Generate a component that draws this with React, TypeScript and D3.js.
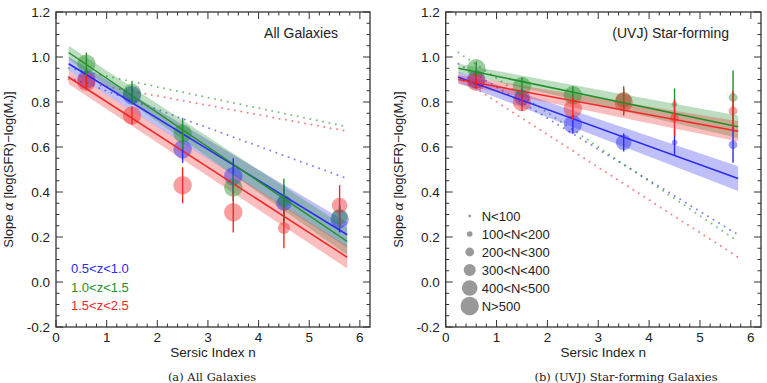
import * as React from 'react';
import {useEffect, useRef} from 'react';
import * as d3 from 'd3';

const W = 767;
const H = 383;

// Sersic index bins where the slopes were measured
const nAll = [0.6, 1.5, 2.5, 3.5, 4.5, 5.6];
const nSF = [0.6, 1.5, 2.5, 3.5, 4.5, 5.65];

// All galaxies: slope, error, size bin (0..5 -> N<100 .. N>500)
const allLowZ = [[0.90, 0.04, 5], [0.83, 0.04, 5], [0.59, 0.06, 5], [0.47, 0.08, 5], [0.35, 0.08, 4], [0.28, 0.06, 5]];
const allMidZ = [[0.97, 0.05, 5], [0.84, 0.05, 5], [0.66, 0.07, 5], [0.42, 0.06, 5], [0.36, 0.10, 3], [0.29, 0.05, 4]];
const allHighZ = [[0.89, 0.03, 5], [0.74, 0.04, 5], [0.43, 0.08, 5], [0.31, 0.09, 5], [0.24, 0.09, 3], [0.34, 0.09, 4]];

// UVJ star-forming galaxies
const sfLowZ = [[0.90, 0.03, 5], [0.82, 0.04, 4], [0.70, 0.04, 5], [0.62, 0.04, 4], [0.62, 0.06, 1], [0.61, 0.08, 2]];
const sfMidZ = [[0.95, 0.03, 5], [0.87, 0.04, 5], [0.83, 0.04, 5], [0.81, 0.06, 4], [0.79, 0.07, 1], [0.82, 0.12, 2]];
const sfHighZ = [[0.89, 0.03, 5], [0.80, 0.04, 5], [0.77, 0.05, 5], [0.80, 0.06, 5], [0.73, 0.08, 2], [0.76, 0.09, 2]];

// linear fits: value at n=0.25, value at n=5.75, band half-width at both ends
const fitRange = [0.25, 5.75];
const allFits = [[0.97, 0.21, 0.03, 0.055], [1.02, 0.18, 0.03, 0.06], [0.91, 0.11, 0.03, 0.05]];
const sfFits = [[0.91, 0.46, 0.025, 0.055], [0.95, 0.69, 0.02, 0.05], [0.90, 0.67, 0.02, 0.045]];

const zLabels = ['0.5<z<1.0', '1.0<z<1.5', '1.5<z<2.5'];
const zColors = ['#2a2af0', '#22902a', '#f02828'];
const sizeLabels = ['N<100', '100<N<200', '200<N<300', '300<N<400', '400<N<500', 'N>500'];
const sizeRadius = [1.4, 2.8, 4.4, 6, 7.8, 9.2];

const font = '"Liberation Sans", Arial, Helvetica, sans-serif';

interface PanelSpec {
  left: number;
  right: number;
  title: string;
  caption: string;
  captionX: number;
  xs: number[];
  points: number[][][];
  fits: number[][];
  dotted: number[][];
  legend: 'z' | 'size';
}

const panels: PanelSpec[] = [
  {left: 56, right: 370, title: 'All Galaxies', caption: '(a) All Galaxies', captionX: 212,
    xs: nAll, points: [allLowZ, allMidZ, allHighZ], fits: allFits, dotted: sfFits, legend: 'z'},
  {left: 445.7, right: 761, title: '(UVJ) Star-forming', caption: '(b) (UVJ) Star-forming Galaxies', captionX: 626,
    xs: nSF, points: [sfLowZ, sfMidZ, sfHighZ], fits: sfFits, dotted: allFits, legend: 'size'},
];

const top = 12;
const bottom = 327;

export default function App() {
  const ref = useRef<SVGSVGElement>(null);

  useEffect(() => {
    const svg = d3.select(ref.current);
    svg.selectAll('*').remove();

    panels.forEach(p => {
      const x = d3.scaleLinear().domain([0, 6]).range([p.left, p.left + (p.right - p.left) * 6 / 6.2]);
      const y = d3.scaleLinear().domain([-0.2, 1.2]).range([bottom, top]);
      const g = svg.append('g');

      // dotted fits from the other sample
      p.dotted.forEach((f, i) => {
        g.append('line')
          .attr('x1', x(fitRange[0])).attr('y1', y(f[0]))
          .attr('x2', x(fitRange[1])).attr('y2', y(f[1]))
          .attr('stroke', zColors[i]).attr('stroke-opacity', 0.6)
          .attr('stroke-width', 2).attr('stroke-linecap', 'round')
          .attr('stroke-dasharray', '0 6.5');
      });

      // confidence bands
      p.fits.forEach((f, i) => {
        const area = d3.area<number>()
          .x(t => x(fitRange[0] + t * (fitRange[1] - fitRange[0])))
          .y0(t => y(f[0] + t * (f[1] - f[0]) - (f[2] + t * (f[3] - f[2]))))
          .y1(t => y(f[0] + t * (f[1] - f[0]) + (f[2] + t * (f[3] - f[2]))));
        g.append('path').attr('d', area([0, 1])!)
          .attr('fill', zColors[i]).attr('fill-opacity', 0.3);
      });

      // measured slopes
      p.points.forEach((series, i) => {
        series.forEach((d, j) => {
          g.append('circle')
            .attr('cx', x(p.xs[j])).attr('cy', y(d[0]))
            .attr('r', sizeRadius[d[2]])
            .attr('fill', zColors[i]).attr('fill-opacity', 0.45);
        });
      });

      // fit lines
      p.fits.forEach((f, i) => {
        g.append('line')
          .attr('x1', x(fitRange[0])).attr('y1', y(f[0]))
          .attr('x2', x(fitRange[1])).attr('y2', y(f[1]))
          .attr('stroke', zColors[i]).attr('stroke-width', 1.5);
      });

      // error bars
      p.points.forEach((series, i) => {
        series.forEach((d, j) => {
          g.append('line')
            .attr('x1', x(p.xs[j])).attr('x2', x(p.xs[j]))
            .attr('y1', y(d[0] - d[1])).attr('y2', y(d[0] + d[1]))
            .attr('stroke', zColors[i]).attr('stroke-width', 1.4);
        });
      });

      // frame and ticks
      const axisColor = '#333';
      g.append('rect')
        .attr('x', p.left).attr('y', top)
        .attr('width', p.right - p.left).attr('height', bottom - top)
        .attr('fill', 'none').attr('stroke', axisColor).attr('stroke-width', 1.3);

      const xTicks = d3.range(0, 6.01, 0.2);
      xTicks.forEach(t => {
        const major = Math.abs(t - Math.round(t)) < 1e-6;
        const len = major ? 7 : 3.5;
        g.append('line').attr('x1', x(t)).attr('x2', x(t)).attr('y1', bottom).attr('y2', bottom - len)
          .attr('stroke', axisColor).attr('stroke-width', 1);
        g.append('line').attr('x1', x(t)).attr('x2', x(t)).attr('y1', top).attr('y2', top + len)
          .attr('stroke', axisColor).attr('stroke-width', 1);
      });
      const yTicks = d3.range(-0.2, 1.201, 0.05);
      yTicks.forEach((t, k) => {
        const major = k % 4 === 0;
        const len = major ? 7 : 3.5;
        g.append('line').attr('x1', p.left).attr('x2', p.left + len).attr('y1', y(t)).attr('y2', y(t))
          .attr('stroke', axisColor).attr('stroke-width', 1);
        g.append('line').attr('x1', p.right).attr('x2', p.right - len).attr('y1', y(t)).attr('y2', y(t))
          .attr('stroke', axisColor).attr('stroke-width', 1);
      });

      d3.range(0, 7).forEach(t => {
        g.append('text').attr('x', x(t)).attr('y', bottom + 15)
          .attr('text-anchor', 'middle').style('font', `13.5px ${font}`).attr('fill', '#222')
          .text(String(t));
      });
      d3.range(-0.2, 1.201, 0.2).forEach(t => {
        g.append('text').attr('x', p.left - 6).attr('y', y(t) + 5)
          .attr('text-anchor', 'end').style('font', `13.5px ${font}`).attr('fill', '#222')
          .text(d3.format('.1f')(t).replace('−', '-'));
      });

      g.append('text').attr('x', (p.left + p.right) / 2).attr('y', bottom + 30)
        .attr('text-anchor', 'middle').style('font', `13.5px ${font}`).attr('fill', '#222')
        .text('Sersic Index n');

      const yl = g.append('text')
        .attr('transform', `translate(${p.left - 43},${(top + bottom) / 2}) rotate(-90)`)
        .attr('text-anchor', 'middle').style('font', `13px ${font}`).attr('fill', '#222');
      yl.append('tspan').text('Slope ');
      yl.append('tspan').style('font-style', 'italic').style('font-family', '"DejaVu Serif", serif').text('α');
      yl.append('tspan').text(' [log(SFR)\u2212log(M');
      yl.append('tspan').attr('font-size', 9).attr('dy', 3).text('*');
      yl.append('tspan').attr('dy', -3).text(')]');

      g.append('text').attr('x', p.right - 32).attr('y', 38)
        .attr('text-anchor', 'end').style('font', `14px ${font}`).attr('fill', '#222')
        .text(p.title);

      g.append('text').attr('x', p.captionX).attr('y', 381)
        .attr('text-anchor', 'middle').style('font', `11.5px "DejaVu Serif", "Liberation Serif", serif`).attr('fill', '#222')
        .text(p.caption);

      if (p.legend === 'z') {
        zLabels.forEach((lab, i) => {
          g.append('text').attr('x', 71).attr('y', 273 + i * 18.5)
            .style('font', `13px ${font}`).attr('fill', zColors[i]).text(lab);
        });
      } else {
        sizeLabels.forEach((lab, i) => {
          g.append('circle').attr('cx', p.left + 24).attr('cy', 216 + i * 18)
            .attr('r', sizeRadius[i]).attr('fill', '#999');
          g.append('text').attr('x', p.left + 36).attr('y', 221 + i * 18)
            .style('font', `13px ${font}`).attr('fill', '#222').text(lab);
        });
      }
    });
  }, []);

  return <svg ref={ref} width={W} height={H} style={{display: 'block', position: 'absolute', left: 0, top: 0, background: '#fff'}} />;
}
